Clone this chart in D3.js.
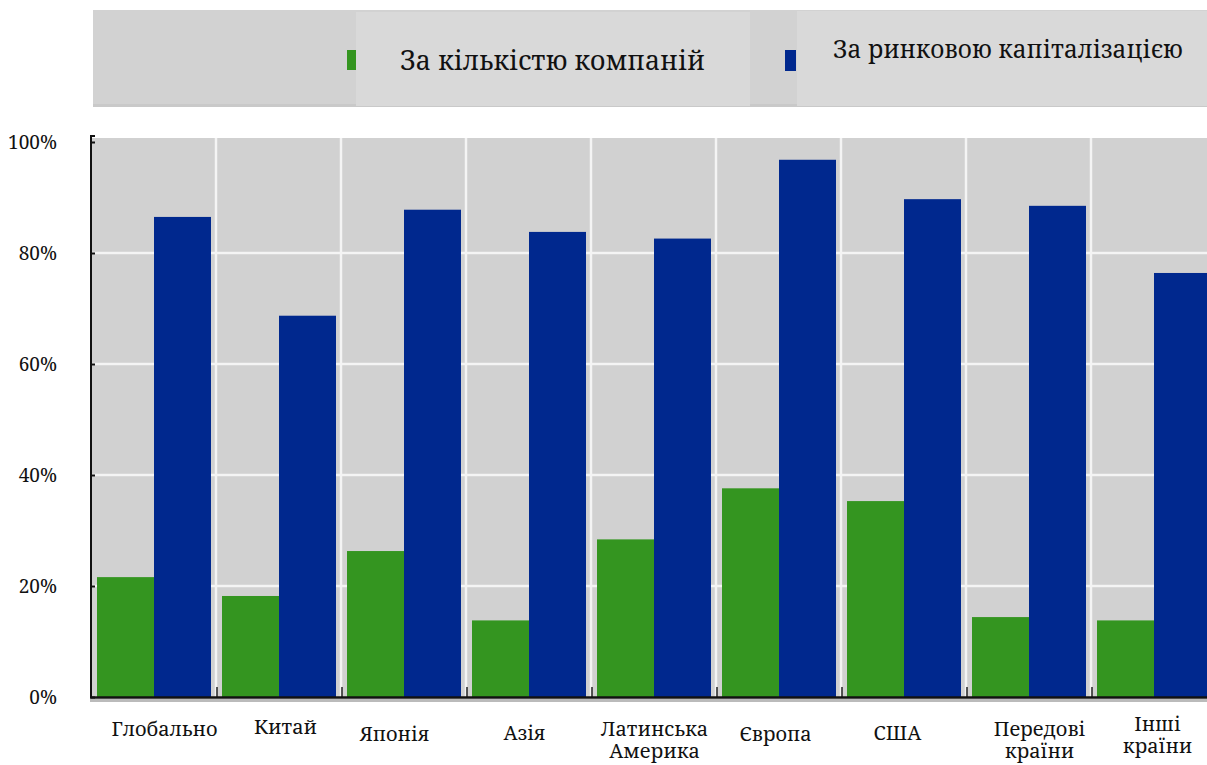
<!DOCTYPE html>
<html><head><meta charset="utf-8">
<script src="https://cdn.jsdelivr.net/npm/d3@7"></script>
<style>body{margin:0;background:#fff}svg{display:block}</style>
</head><body>
<svg id="c" width="1207" height="765"></svg>
<script>
const categories = ["Глобально","Китай","Японія","Азія","Латинська Америка","Європа","США","Передові країни","Інші країни"];
const categoryLines = [["Глобально"],["Китай"],["Японія"],["Азія"],["Латинська","Америка"],["Європа"],["США"],["Передові","країни"],["Інші","країни"]];
const seriesNames = ["За кількістю компаній","За ринковою капіталізацією"];
const byCompanies = [21.6, 18.2, 26.3, 13.8, 28.4, 37.6, 35.3, 14.4, 13.8];
const byCapitalization = [86.5, 68.7, 87.8, 83.8, 82.6, 96.8, 89.7, 88.5, 76.4];
const yTicks = [0, 20, 40, 60, 80, 100];
const colors = ["#349520", "#00288e"];

(function(){
const FONT = "'Noto Serif', 'DejaVu Serif', serif";
// layout nudges for category labels (dx, dy of first line)
const labelNudge = [[10,0],[6,-2],[-10,5],[-5,4],[0,0],[-4,5],[-7,4],[10,0],[3,-5]];

const svg = d3.select("#c");
const W = 1207;
const pLeft = 92, pTop = 142, pBottom = 697, groupW = 125;
const x = d3.scaleBand().domain(categories).range([pLeft, pLeft + groupW*categories.length]).padding(0);
const xs = d3.scaleBand().domain([0,1]).range([5, 119]).padding(0);
const y = d3.scaleLinear().domain([0,100]).range([pBottom, pTop]);

// legend band
const lg = svg.append("g");
lg.append("rect").attr("x",93).attr("y",10).attr("width",W-93).attr("height",96).attr("fill","#d2d2d2");
lg.append("rect").attr("x",93).attr("y",104).attr("width",W-93).attr("height",3).attr("fill","#c9c9c9");
lg.append("rect").attr("x",347).attr("y",50).attr("width",10).attr("height",20).attr("fill",colors[0]);
lg.append("rect").attr("x",785).attr("y",50).attr("width",11).attr("height",21).attr("fill",colors[1]);
lg.append("rect").attr("x",356).attr("y",12).attr("width",394).attr("height",94).attr("fill","#d9d9d9");
lg.append("rect").attr("x",797).attr("y",11).attr("width",W-797).attr("height",95).attr("fill","#d9d9d9");
lg.append("text").attr("x",400).attr("y",70).style("font-family",FONT)
  .style("font-size","27px").attr("fill","#111").attr("textLength",305).attr("lengthAdjust","spacingAndGlyphs").text(seriesNames[0]);
lg.append("text").attr("x",833).attr("y",58).style("font-family",FONT)
  .style("font-size","25px").attr("fill","#111").attr("textLength",350).attr("lengthAdjust","spacingAndGlyphs").text(seriesNames[1]);

// plot background
svg.append("rect").attr("x",pLeft).attr("y",pTop-4).attr("width",W-pLeft).attr("height",pBottom-pTop+4).attr("fill","#d1d1d1");

// horizontal gridlines
svg.append("g").selectAll("line").data(yTicks.filter(t=>t>0 && t<100)).join("line")
  .attr("x1",pLeft).attr("x2",W).attr("y1",d=>y(d)).attr("y2",d=>y(d))
  .attr("stroke","#f4f4f4").attr("stroke-width",2.5);

// vertical separators
svg.append("g").selectAll("line").data(categories.slice(1)).join("line")
  .attr("x1",d=>x(d)-1).attr("x2",d=>x(d)-1).attr("y1",pTop-4).attr("y2",pBottom)
  .attr("stroke","#f4f4f4").attr("stroke-width",2.5);

// bars
const series = [byCompanies, byCapitalization];
series.forEach((vals, si) => {
  svg.append("g").selectAll("rect").data(vals).join("rect")
    .attr("x",(d,i)=>x(categories[i]) + xs(si))
    .attr("width",xs.bandwidth())
    .attr("y",d=>y(d)).attr("height",d=>y(0)-y(d))
    .attr("fill",colors[si]);
});

// x ticks at separators
svg.append("g").selectAll("line").data(categories.slice(1)).join("line")
  .attr("x1",d=>x(d)).attr("x2",d=>x(d)).attr("y1",pBottom-10).attr("y2",pBottom)
  .attr("stroke","#222").attr("stroke-width",1.5);

// y axis
const yAxis = d3.axisRight(y).tickValues(yTicks).tickSize(4).tickFormat("");
const ya = svg.append("g").attr("transform",`translate(${pLeft-1},0)`).call(yAxis);
ya.select(".domain").attr("stroke","#111").attr("stroke-width",2).attr("d",`M4,${pTop-6}H0V${pBottom}`);
ya.selectAll(".tick line").attr("stroke","#111").attr("stroke-width",2);

// bottom axis line with soft shadow
svg.append("rect").attr("x",pLeft-2).attr("y",pBottom+2).attr("width",W-pLeft+2).attr("height",3).attr("fill","#bbb");
svg.append("line").attr("x1",pLeft-2).attr("x2",W).attr("y1",pBottom+0.5).attr("y2",pBottom+0.5).attr("stroke","#111").attr("stroke-width",2.5);

// y labels
svg.append("g").selectAll("text").data(yTicks).join("text")
  .attr("x",57).attr("y",d=>y(d)+7).attr("text-anchor","end")
  .style("font-family",FONT).style("font-size","19px").attr("fill","#111")
  .text(d=>d+"%");

// x labels
const xl = svg.append("g").selectAll("text").data(categories).join("text")
  .attr("text-anchor","middle")
  .style("font-family",FONT).style("font-size","20px").attr("fill","#111")
  .attr("transform",(d,i)=>`translate(${x(d)+x.bandwidth()/2+labelNudge[i][0]},${736+labelNudge[i][1]})`);
xl.each(function(d,i){
  const t = d3.select(this);
  categoryLines[i].forEach((ln,k)=>{
    t.append("tspan").attr("x",0).attr("y",k*22).text(ln);
  });
});
})();
</script>
</body></html>
